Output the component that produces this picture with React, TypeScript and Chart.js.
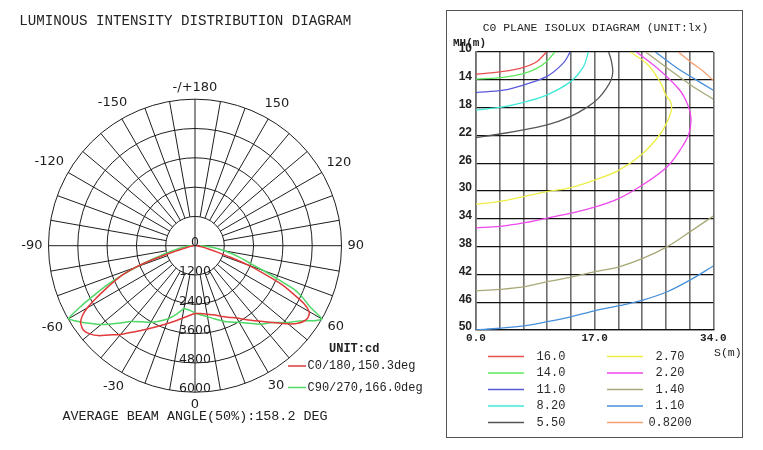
import React, { useEffect, useRef } from 'react';
import { Chart, registerables } from 'chart.js';

Chart.register(...registerables);

// ---------- Polar (luminous intensity) data ----------
const polarAngles = [-90, -85, -80, -76, -74, -72, -70, -68, -66, -64, -62, -60, -58, -56, -53, -50, -47, -44, -40, -35, -30, -25, -20, -15, -10, -5, 0, 5, 10, 15, 20, 25, 30, 35, 40, 45, 50, 53, 56, 58, 60, 62, 64, 66, 68, 70, 72, 74, 76, 80, 85, 90];
const c0c180Values = [50, 120, 250, 500, 900, 1700, 2600, 3200, 3650, 4100, 4600, 5100, 5450, 5650, 5730, 5620, 5400, 5080, 4750, 4300, 3950, 3650, 3400, 3200, 3020, 2880, 2780, 2790, 2850, 2930, 3070, 3230, 3420, 3700, 4030, 4450, 4980, 5280, 5460, 5480, 5400, 5050, 4450, 3850, 3000, 2300, 1500, 950, 600, 280, 120, 50];
const c90c270Values = [100, 350, 700, 1100, 1450, 1900, 2550, 3200, 3900, 4550, 5300, 5980, 5800, 5600, 5300, 5020, 4700, 4400, 4050, 3800, 3620, 3400, 3180, 2900, 2620, 2650, 2750, 2850, 2950, 3100, 3280, 3450, 3620, 3880, 4200, 4450, 4900, 5150, 5500, 5800, 6000, 5330, 4950, 4500, 3650, 3000, 2430, 2100, 1800, 1250, 700, 200];
const polarSeriesNames = ['C0/180,150.3deg', 'C90/270,166.0deg'];
const polarSeriesColors = ['#e03a3a', '#4fd866'];
const ringValues = [1200, 2400, 3600, 4800, 6000];
const ringLabelValues = [0, 1200, 2400, 3600, 4800, 6000];
const angleLabelValues = [0, 30, 60, 90, 120, 150, 180, -150, -120, -90, -60, -30];
const angleLabelTexts = ['0', '30', '60', '90', '120', '150', '-/+180', '-150', '-120', '-90', '-60', '-30'];
const spokeStep = 10;
const polarTitle = 'LUMINOUS INTENSITY DISTRIBUTION DIAGRAM';
const beamText = 'AVERAGE BEAM ANGLE(50%):158.2 DEG';
const unitText = 'UNIT:cd';

// ---------- Isolux data ----------
const isoLevels = ['16.0', '14.0', '11.0', '8.20', '5.50', '2.70', '2.20', '1.40', '1.10', '0.8200'];
const isoColors = ['#e85050', '#5ee85e', '#5a5ad8', '#40e8d8', '#555555', '#eeee48', '#ee48ee', '#a8a878', '#4690dc', '#f5a072'];

const lux160S = [0, 3.9, 6.8, 8.7, 10.1];
const lux160MH = [13.2, 12.8, 12.2, 11.4, 10];
const lux140S = [0, 3.9, 6.8, 8.7, 10.1, 11.3];
const lux140MH = [13.9, 13.65, 13.1, 12.35, 11.4, 10];
const lux110S = [0, 3.9, 6.8, 10.1, 12.5, 13.5];
const lux110MH = [15.85, 15.5, 14.75, 13.55, 11.6, 10];
const lux82S = [0, 3.9, 6.8, 10.1, 13.5, 15.4, 16.1];
const lux82MH = [18.35, 17.9, 17.25, 16.2, 14.3, 12.1, 10];
const lux55S = [0, 3.4, 6.8, 10.2, 13.5, 16.0, 17.6, 18.7, 19.4, 19.6, 19.4, 19.0];
const lux55MH = [22.3, 21.8, 21.2, 20.5, 19.3, 17.9, 16.6, 15.2, 13.9, 12.8, 11.3, 10];
const lux27S = [0, 3.4, 6.8, 10.2, 13.6, 17.1, 20.5, 23.9, 26.4, 27.5, 28.0, 27.9, 27.2, 26.6, 24.7, 22.1];
const lux27MH = [31.9, 31.5, 30.8, 30.1, 29.5, 28.4, 27.0, 24.6, 21.8, 19.8, 18.3, 17.2, 16.2, 14.7, 11.9, 10];
const lux22S = [0, 3.4, 6.8, 10.2, 13.6, 17.1, 20.5, 23.9, 27.4, 29.3, 30.5, 30.8, 30.3, 29.2, 26.4, 23.0];
const lux22MH = [35.3, 35.1, 34.6, 33.9, 33.2, 32.3, 31.05, 29.1, 26.5, 24.0, 21.8, 19.5, 17.5, 15.5, 12.7, 10];
const lux14TopS = [24.3, 27.4, 30.7, 34];
const lux14TopMH = [10, 12.3, 14.7, 16.8];
const lux14LowS = [0, 3.4, 6.8, 10.2, 13.6, 17.1, 20.5, 23.9, 27.4, 30.7, 34];
const lux14LowMH = [44.35, 44.15, 43.8, 43.05, 42.4, 41.6, 40.9, 39.7, 38.0, 35.85, 33.6];
const lux11TopS = [25.7, 28.8, 31.2, 34];
const lux11TopMH = [10, 12.3, 13.8, 15.5];
const lux11LowS = [0, 3.4, 6.8, 10.2, 13.6, 17.1, 20.5, 23.9, 27.4, 30.7, 34];
const lux11LowMH = [50, 49.75, 49.4, 48.8, 48.1, 47.2, 46.5, 45.7, 44.5, 42.8, 40.8];
const lux082S = [29.0, 30.7, 32.6, 34];
const lux082MH = [10, 11.4, 12.8, 14.1];

const xGridValues = [0, 3.4, 6.8, 10.2, 13.6, 17, 20.4, 23.8, 27.2, 30.6, 34];
const xLabelValues = [0, 17, 34];
const xLabelTexts = ['0.0', '17.0', '34.0'];
const isoTitle = 'C0 PLANE ISOLUX DIAGRAM (UNIT:lx)';
const yAxisTitle = 'MH(m)';
const xAxisTitle = 'S(m)';

// level index -> list of [S, MH] parts
const isoParts: [number, number[], number[]][] = [
  [0, lux160S, lux160MH],
  [1, lux140S, lux140MH],
  [2, lux110S, lux110MH],
  [3, lux82S, lux82MH],
  [4, lux55S, lux55MH],
  [5, lux27S, lux27MH],
  [6, lux22S, lux22MH],
  [7, lux14TopS, lux14TopMH],
  [7, lux14LowS, lux14LowMH],
  [8, lux11TopS, lux11TopMH],
  [8, lux11LowS, lux11LowMH],
  [9, lux082S, lux082MH],
];

function toXY(angles: number[], values: number[]) {
  return angles.map((a, i) => {
    const t = (a * Math.PI) / 180;
    return { x: values[i] * Math.sin(t), y: -values[i] * Math.cos(t) };
  });
}

const polarPlugin = {
  id: 'polarGrid',
  beforeDatasetsDraw(chart: any) {
    const { ctx, scales } = chart;
    const xs = scales.x;
    const ys = scales.y;
    const cx = xs.getPixelForValue(0);
    const cy = ys.getPixelForValue(0);
    const rad = (v: number) => xs.getPixelForValue(v) - cx;
    ctx.save();
    ctx.strokeStyle = '#1e1e1e';
    ctx.lineWidth = 1;
    ringValues.forEach((v) => {
      ctx.beginPath();
      ctx.arc(cx, cy, rad(v), 0, Math.PI * 2);
      ctx.stroke();
    });
    const rIn = rad(ringValues[0]);
    const rOut = rad(ringValues[ringValues.length - 1]);
    for (let a = 0; a < 360; a += spokeStep) {
      const t = (a * Math.PI) / 180;
      const r0 = a % 90 === 0 ? 0 : rIn;
      ctx.beginPath();
      ctx.moveTo(cx + r0 * Math.sin(t), cy + r0 * Math.cos(t));
      ctx.lineTo(cx + rOut * Math.sin(t), cy + rOut * Math.cos(t));
      ctx.stroke();
    }
    ctx.restore();
  },
  afterDraw(chart: any) {
    const { ctx, scales } = chart;
    const xs = scales.x;
    const ys = scales.y;
    const cx = xs.getPixelForValue(0);
    const cy = ys.getPixelForValue(0);
    const rad = (v: number) => xs.getPixelForValue(v) - cx;
    const rOut = rad(ringValues[ringValues.length - 1]);
    ctx.save();
    ctx.fillStyle = '#1e1e1e';
    ctx.textBaseline = 'middle';
    ctx.textAlign = 'center';
    // angle labels
    ctx.font = '13px "DejaVu Sans"';
    angleLabelValues.forEach((a, i) => {
      const txt = angleLabelTexts[i];
      const w = ctx.measureText(txt).width;
      const t = (a * Math.PI) / 180;
      const R = rOut + 6 + (w / 2) * Math.abs(Math.sin(t)) + 6 * Math.abs(Math.cos(t));
      ctx.fillText(txt, cx + R * Math.sin(t), cy + R * Math.cos(t));
    });
    // ring labels
    ctx.font = '12.5px "DejaVu Sans"';
    ringLabelValues.forEach((v) => {
      ctx.fillText(String(v), cx, cy + rad(v) - 3);
    });
    // title
    ctx.textAlign = 'left';
    ctx.font = '14.2px "Liberation Mono"';
    ctx.fillStyle = '#222';
    ctx.fillText(polarTitle, 19.3, 21.7);
    // beam angle
    ctx.textAlign = 'center';
    ctx.font = '13.4px "Liberation Mono"';
    ctx.fillText(beamText, 195, 416.7);
    // legend
    ctx.textAlign = 'left';
    ctx.font = 'bold 12px "Liberation Mono"';
    ctx.fillText(unitText, 329, 349.3);
    ctx.font = '12px "Liberation Mono"';
    const rowsY = [366, 387.5];
    polarSeriesNames.forEach((name, i) => {
      ctx.strokeStyle = polarSeriesColors[i];
      ctx.lineWidth = 1.5;
      ctx.beginPath();
      ctx.moveTo(288, rowsY[i]);
      ctx.lineTo(306, rowsY[i]);
      ctx.stroke();
      ctx.fillStyle = '#222';
      ctx.fillText(name, 307.5, rowsY[i]);
    });
    ctx.restore();
  },
};

const isoTextPlugin = {
  id: 'isoText',
  afterDraw(chart: any) {
    const { ctx } = chart;
    ctx.save();
    ctx.fillStyle = '#222';
    ctx.textBaseline = 'middle';
    ctx.textAlign = 'center';
    ctx.font = '11.4px "Liberation Mono"';
    ctx.fillText(isoTitle, 148.5, 17.3);
    ctx.textAlign = 'left';
    ctx.font = 'bold 11px "Liberation Mono"';
    ctx.fillText(yAxisTitle, 6, 32);
    ctx.font = '11.5px "Liberation Mono"';
    ctx.fillText(xAxisTitle, 267, 342);
    ctx.font = '12px "Liberation Mono"';
    isoLevels.forEach((lvl, i) => {
      const col = i < 5 ? 0 : 1;
      const row = i % 5;
      const y = 345.5 + 16.5 * row;
      const x0 = col === 0 ? 41 : 160;
      const tx = col === 0 ? 104 : 223;
      ctx.strokeStyle = isoColors[i];
      ctx.lineWidth = 1.4;
      ctx.beginPath();
      ctx.moveTo(x0, y);
      ctx.lineTo(x0 + 36, y);
      ctx.stroke();
      ctx.textAlign = 'center';
      ctx.fillStyle = '#2a2a2a';
      ctx.fillText(lvl, tx, y);
    });
    ctx.restore();
  },
};

function PolarChart() {
  const ref = useRef<HTMLCanvasElement>(null);
  useEffect(() => {
    if (!ref.current) return;
    const chart = new Chart(ref.current, {
      type: 'scatter',
      data: {
        datasets: [
          {
            label: polarSeriesNames[0],
            data: toXY(polarAngles, c0c180Values),
            borderColor: polarSeriesColors[0],
            borderWidth: 1.5,
            showLine: true,
            pointRadius: 0,
            tension: 0.2,
          },
          {
            label: polarSeriesNames[1],
            data: toXY(polarAngles, c90c270Values),
            borderColor: polarSeriesColors[1],
            borderWidth: 1.5,
            showLine: true,
            pointRadius: 0,
            tension: 0.2,
          },
        ],
      },
      options: {
        animation: false,
        responsive: false,
        events: [],
        layout: { padding: { left: 11.875, right: 61.875, top: 62.575, bottom: 21.175 } },
        scales: {
          x: { type: 'linear', min: -7500, max: 7500, display: false },
          y: { type: 'linear', min: -7500, max: 7500, display: false },
        },
        plugins: { legend: { display: false }, tooltip: { enabled: false } },
      } as any,
      plugins: [polarPlugin],
    });
    return () => chart.destroy();
  }, []);
  return (
    <canvas
      ref={ref}
      width={440}
      height={450}
      style={{ position: 'absolute', left: 0, top: 0, width: 440, height: 450 }}
    />
  );
}

function IsoluxChart() {
  const ref = useRef<HTMLCanvasElement>(null);
  useEffect(() => {
    if (!ref.current) return;
    const datasets = isoParts.map(([li, s, mh]) => ({
      label: isoLevels[li],
      data: s.map((v, i) => ({ x: v, y: mh[i] })),
      borderColor: isoColors[li],
      borderWidth: 1.3,
      showLine: true,
      pointRadius: 0,
      tension: 0.35,
    }));
    const chart = new Chart(ref.current, {
      type: 'scatter',
      data: { datasets },
      options: {
        animation: false,
        responsive: false,
        events: [],
        layout: { padding: { left: 0, right: 28.7, top: 41, bottom: 87 } },
        scales: {
          x: {
            type: 'linear',
            min: 0,
            max: 34,
            afterBuildTicks: (s: any) => {
              s.ticks = xGridValues.map((v) => ({ value: v }));
            },
            afterFit: (s: any) => {
              s.height = 20;
            },
            ticks: {
              autoSkip: false,
              maxRotation: 0,
              padding: 2,
              color: '#222',
              font: { family: 'Liberation Mono', size: 11, weight: 'bold' },
              callback: (value: any) => {
                const i = xLabelValues.findIndex((v) => Math.abs(v - Number(value)) < 1e-6);
                return i >= 0 ? xLabelTexts[i] : '';
              },
            },
            grid: { color: '#6e6e6e', lineWidth: 1.6, drawTicks: false },
            border: { color: '#111', width: 1.2 },
          },
          y: {
            type: 'linear',
            min: 10,
            max: 50,
            reverse: true,
            afterFit: (s: any) => {
              s.width = 29;
            },
            ticks: {
              stepSize: 4,
              padding: 4,
              labelOffset: -3,
              color: '#222',
              font: { family: 'Liberation Sans', size: 12, weight: 'bold' },
            },
            grid: { color: '#111', lineWidth: 1.2, drawTicks: false },
            border: { color: '#6e6e6e', width: 1.6 },
          },
        },
        plugins: { legend: { display: false }, tooltip: { enabled: false } },
      } as any,
      plugins: [isoTextPlugin],
    });
    return () => chart.destroy();
  }, []);
  return (
    <div
      style={{
        position: 'absolute',
        left: 446,
        top: 10,
        width: 297,
        height: 428,
        border: '1px solid #555',
        boxSizing: 'border-box',
        background: '#fff',
      }}
    >
      <canvas
        ref={ref}
        width={295}
        height={426}
        style={{ position: 'absolute', left: 0, top: 0, width: 295, height: 426 }}
      />
    </div>
  );
}

export default function App() {
  return (
    <div style={{ position: 'absolute', left: 0, top: 0, width: 763, height: 450, background: '#fff', overflow: 'hidden' }}>
      <PolarChart />
      <IsoluxChart />
    </div>
  );
}
